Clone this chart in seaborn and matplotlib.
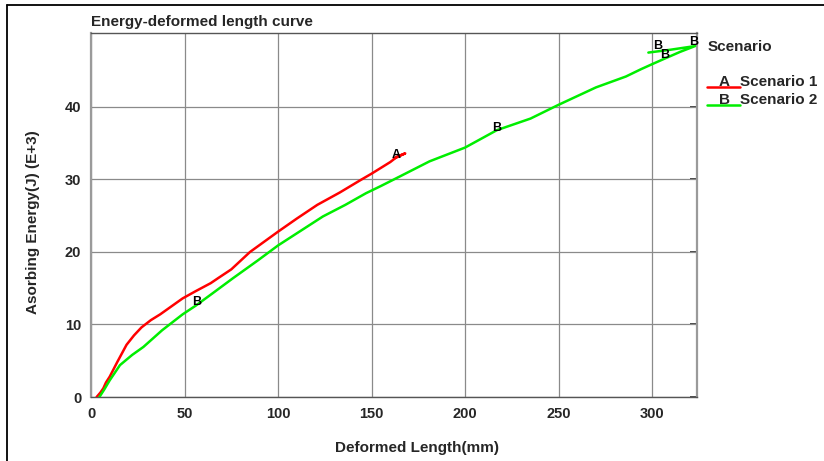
import matplotlib
matplotlib.use("Agg")
import matplotlib.pyplot as plt
from matplotlib.lines import Line2D
from matplotlib.ticker import MultipleLocator, FixedLocator
import seaborn as sns
import pandas as pd

# ---- data ----
scen1_x = [3, 5, 6.6, 8, 10, 14, 19, 23, 27, 32, 37, 43, 49, 56, 64, 68, 75, 85, 100, 110, 121, 133, 144, 150, 155, 160, 163, 168, 165, 162]
scen1_y = [0, 0.6, 1.2, 2.0, 2.8, 4.8, 7.2, 8.5, 9.6, 10.6, 11.4, 12.5, 13.6, 14.6, 15.7, 16.4, 17.6, 20.0, 22.8, 24.6, 26.5, 28.2, 29.9, 30.8, 31.6, 32.4, 33.0, 33.6, 33.3, 32.9]

scen2_x = [0, 4, 7, 10, 15.5, 22, 28, 38, 49, 56, 65, 76, 89, 100, 112, 124, 136, 147, 155, 165, 181, 200, 217, 235, 250, 270, 286, 294, 300, 307, 315, 323, 310, 298]
scen2_y = [-0.2, -0.2, 1.0, 2.3, 4.4, 5.8, 6.9, 9.2, 11.4, 12.6, 14.3, 16.4, 18.8, 20.9, 22.9, 24.9, 26.5, 28.1, 29.1, 30.4, 32.5, 34.4, 36.8, 38.4, 40.3, 42.7, 44.2, 45.2, 45.9, 46.7, 47.6, 48.4, 47.9, 47.5]

scen1_mark_x = [163.4]
scen1_mark_y = [33.4]
scen2_mark_x = [56.3, 217, 303.0, 306.6, 322.1]
scen2_mark_y = [13.1, 37.1, 48.4, 47.1, 48.9]

y_ticks = [0, 10, 20, 30, 40]
y_minor = [5, 15, 25, 35, 45]

series_names = ["Scenario 1", "Scenario 2"]
series_letters = ["A", "B"]
series_colors = ["#ff0000", "#00ee00"]

title = "Energy-deformed length curve"
xlabel = "Deformed Length(mm)"
ylabel = "Asorbing Energy(J) (E+3)"
legend_title = "Scenario"

# ---- style ----
sns.set_style("white")
plt.rcParams['font.family'] = ['Liberation Sans', 'DejaVu Sans']
plt.rcParams['font.weight'] = 'bold'

fig = plt.figure(figsize=(8.24, 4.61), dpi=100)
W, H = 824, 461
ax = fig.add_axes([91 / W, 1 - 397 / H, (697 - 91) / W, (397 - 33) / H])

df1 = pd.DataFrame({"x": scen1_x, "y": scen1_y})
df2 = pd.DataFrame({"x": scen2_x, "y": scen2_y})
sns.lineplot(data=df1, x="x", y="y", sort=False, color=series_colors[0], lw=1.8, ax=ax, zorder=3)
sns.lineplot(data=df2, x="x", y="y", sort=False, color=series_colors[1], lw=1.8, ax=ax, zorder=3)

for mx, my in zip(scen1_mark_x, scen1_mark_y):
    ax.text(mx, my, series_letters[0], ha='center', va='center', fontsize=9, color='black',
            fontweight='bold', zorder=4)
for mx, my in zip(scen2_mark_x, scen2_mark_y):
    ax.text(mx, my, series_letters[1], ha='center', va='center', fontsize=9, color='black',
            fontweight='bold', zorder=4)

ax.set_xlim(0, 324)
ax.set_ylim(0, 50.2)
ax.xaxis.set_major_locator(MultipleLocator(50))
ax.xaxis.set_minor_locator(MultipleLocator(25))
ax.yaxis.set_major_locator(FixedLocator(y_ticks))
ax.yaxis.set_minor_locator(FixedLocator(y_minor))
ax.grid(True, which='major', color='#8a8a8a', lw=0.9)
ax.set_axisbelow(True)

ax.tick_params(axis='both', which='major', direction='out', length=4, width=1, color='#555555',
               labelsize=10.5, pad=3)
ax.tick_params(axis='both', which='minor', direction='in', length=4, width=1, color='#555555')
for lab in ax.get_xticklabels() + ax.get_yticklabels():
    lab.set_fontweight('bold')

# inward major ticks on the right spine
ax_r = ax.secondary_yaxis('right')
ax_r.yaxis.set_major_locator(FixedLocator(y_ticks))
ax_r.tick_params(direction='in', length=5, width=1.4, color='#444444', labelright=False)
ax_r.spines['right'].set_visible(False)

for side in ['left', 'right']:
    ax.spines[side].set_color('#9a9a9a')
    ax.spines[side].set_linewidth(1.6)
for side in ['top', 'bottom']:
    ax.spines[side].set_color('#555555')
    ax.spines[side].set_linewidth(1.0)

ax.set_xlabel(xlabel, fontsize=11, fontweight='bold')
ax.set_ylabel(ylabel, fontsize=11, fontweight='bold')
ax.xaxis.set_label_coords((417 - 91) / 606, (397 - 441) / 364)
ax.yaxis.set_label_coords((40 - 91) / 606, (397 - 222) / 364)

ax.set_title(title, loc='left', fontsize=11, fontweight='bold', pad=5)

# ---- legend (manual) ----
fig.text(708 / W, 1 - 47 / H, legend_title, fontsize=11, fontweight='bold', va='center', ha='left')
leg_rows = [87, 105]
for i, (name, letter, col) in enumerate(zip(series_names, series_letters, series_colors)):
    yl = leg_rows[i]
    fig.add_artist(Line2D([707 / W, 740 / W], [1 - yl / H, 1 - yl / H], color=col, lw=1.8))
    fig.text(724 / W, 1 - (yl - 1) / H, letter, fontsize=11, fontweight='bold', va='baseline', ha='center')
    fig.text(740 / W, 1 - (yl - 1) / H, name, fontsize=11, fontweight='bold', va='baseline', ha='left')

# ---- outer frame lines ----
fig.add_artist(Line2D([7.5 / W, 7.5 / W], [0, 1 - 5.5 / H], color='black', lw=1.3))
fig.add_artist(Line2D([7.5 / W, 1], [1 - 5.5 / H, 1 - 5.5 / H], color='black', lw=1.3))

fig.savefig("out.png", dpi=100)
